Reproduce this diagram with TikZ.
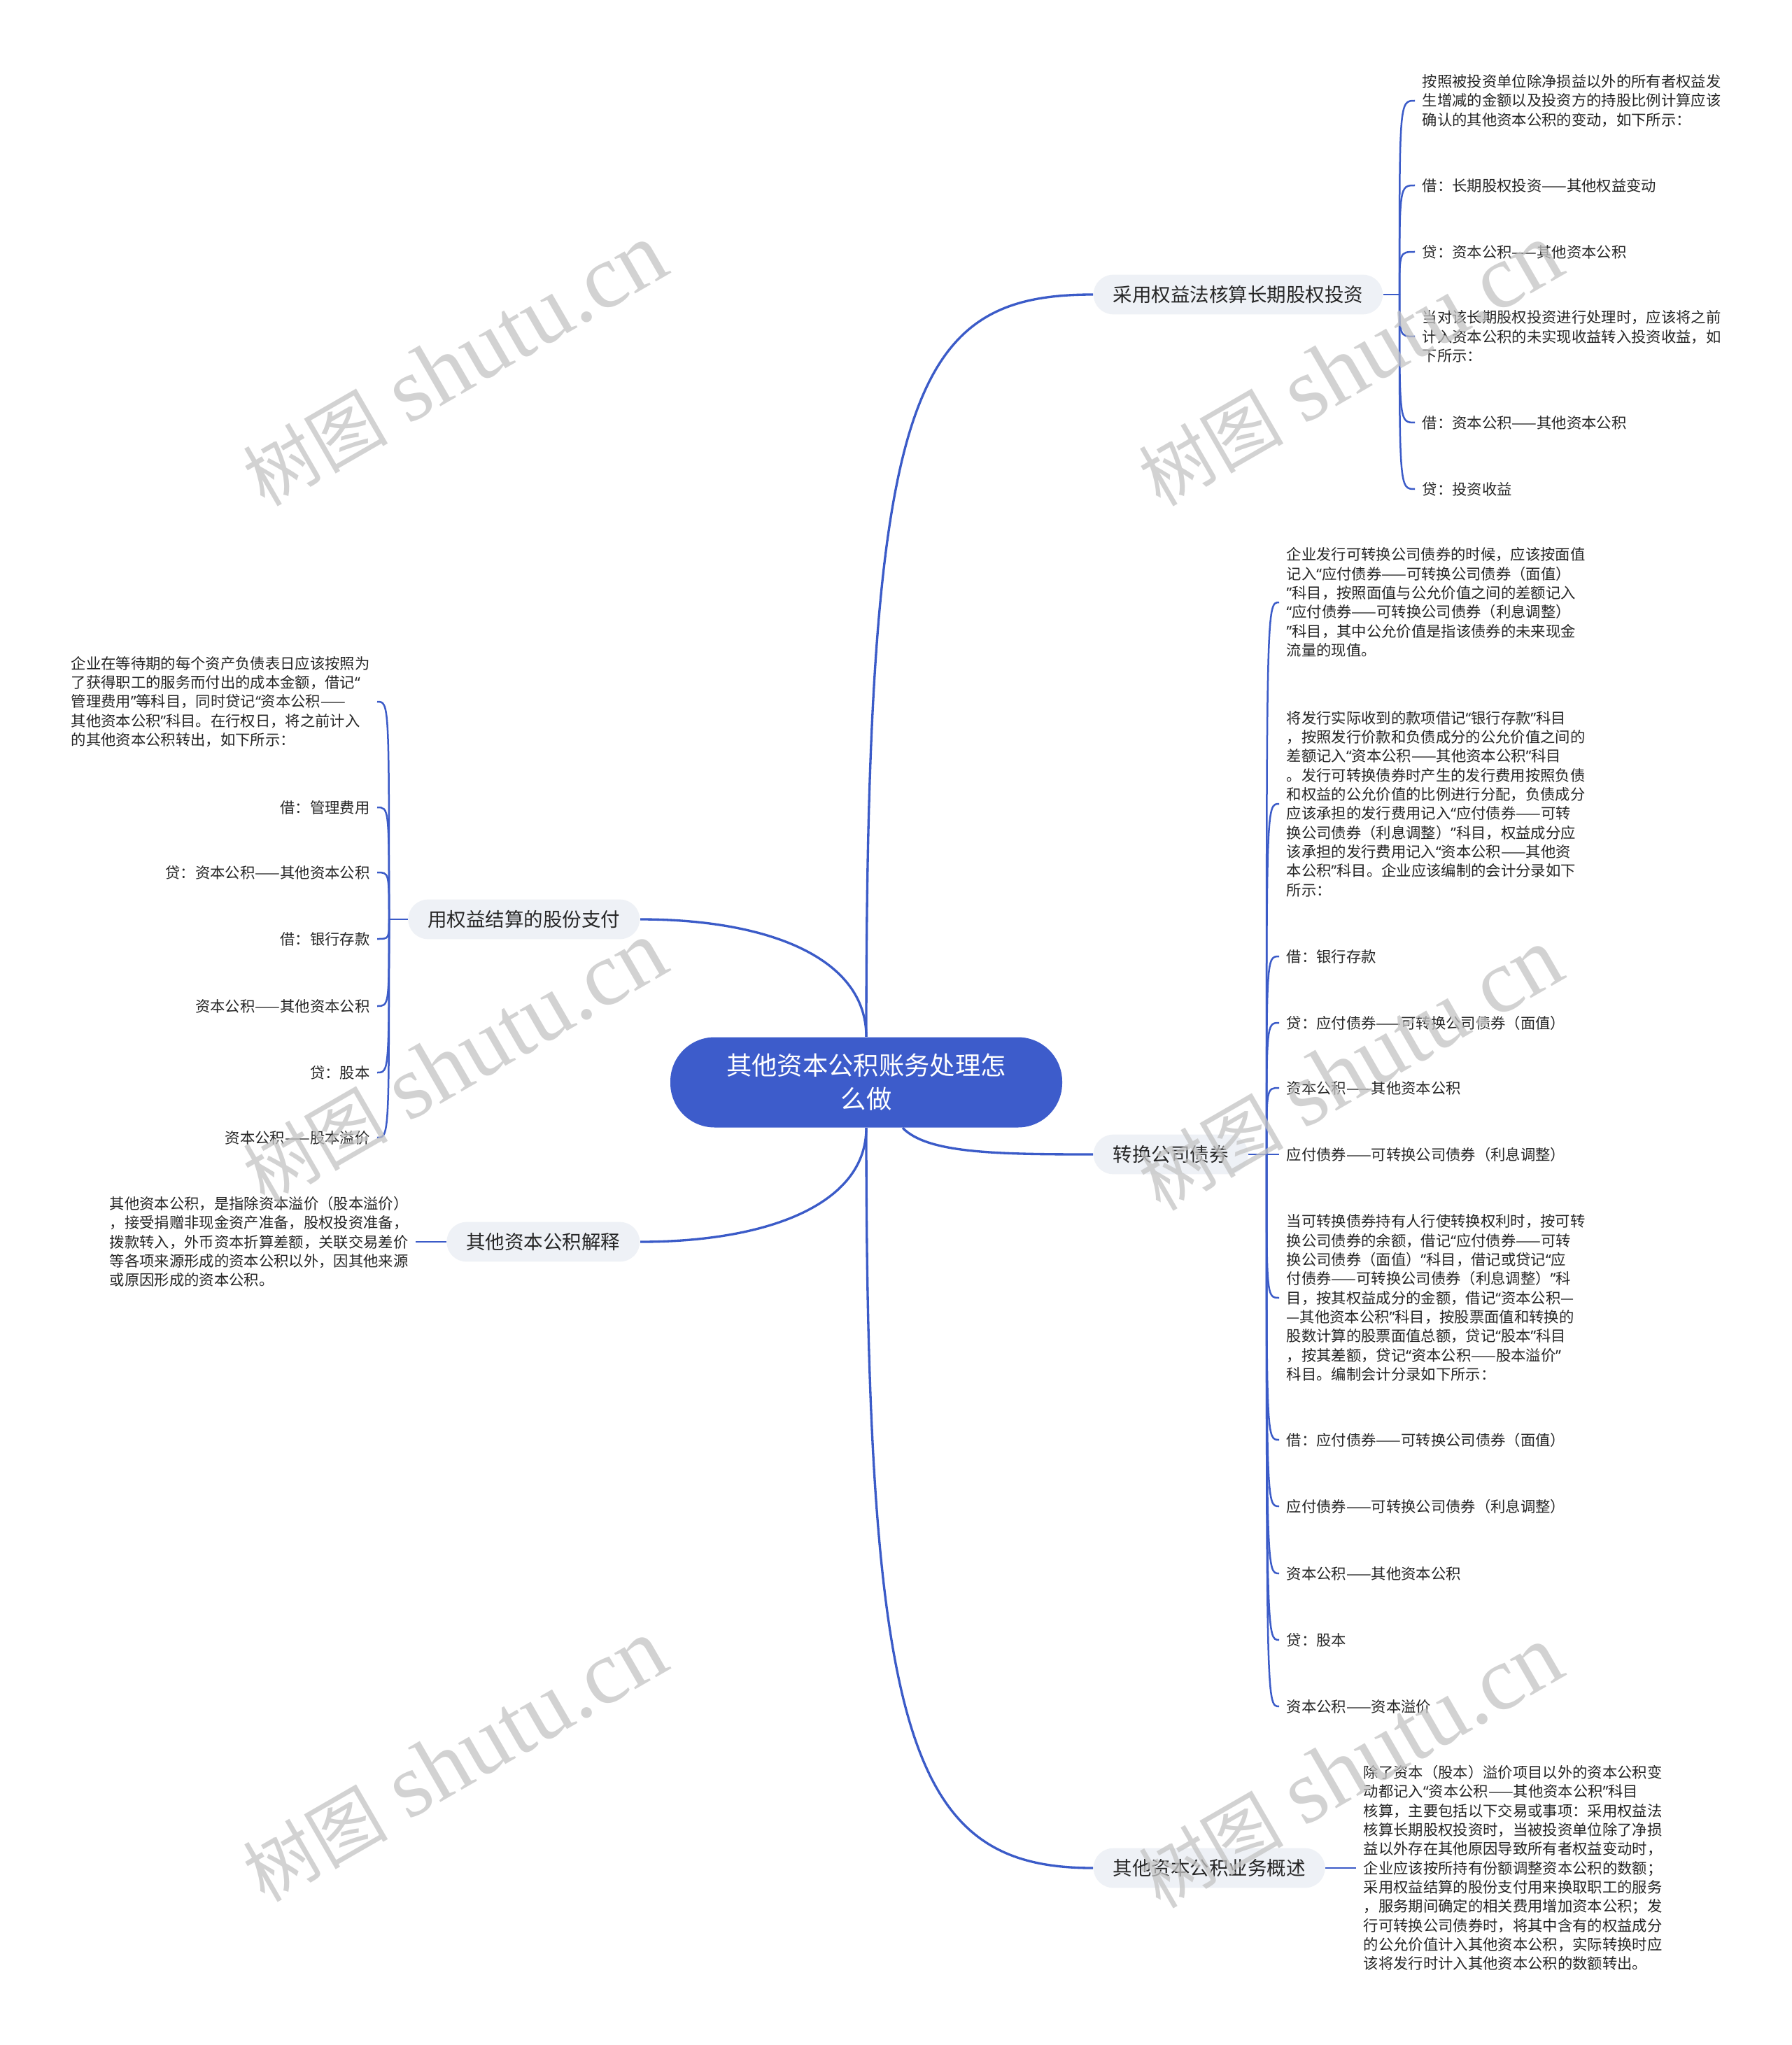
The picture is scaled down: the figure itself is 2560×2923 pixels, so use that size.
\documentclass[tikz,border=0pt]{standalone}
\usepackage{fontspec}
\setmainfont{Noto Sans CJK SC}
\newfontfamily\wmlatin{Liberation Serif}
\newfontfamily\qfont{Noto Sans}
\newcommand\qo{{\qfont “}}
\newcommand\qc{{\qfont ”}}
\usetikzlibrary{calc}
\definecolor{lineblue}{HTML}{3B5BC8}
\definecolor{centerblue}{HTML}{3D5CCB}
\definecolor{pillfill}{HTML}{EEF1F6}
\definecolor{txt}{HTML}{262626}
\definecolor{wm}{HTML}{C4C4C4}
\begin{document}
\begin{tikzpicture}[x=0.3pt,y=-0.3pt,
  centerbox/.style={fill=centerblue, text=white, rounded corners=19pt, minimum width=168pt, minimum height=38.7pt, align=center, font=\fontsize{10.9}{14.4}\selectfont, inner sep=0pt},
  pill/.style={fill=pillfill, text=txt, rounded corners=8.5pt, minimum height=17pt, inner xsep=8.4pt, inner ysep=0pt, font=\fontsize{8.25}{10}\selectfont},
  leafr/.style={anchor=west, align=left, text=txt, inner xsep=3pt, inner ysep=0pt, font=\fontsize{6.4}{8.2}\selectfont},
  leafl/.style={anchor=east, align=right, text=txt, inner xsep=3pt, inner ysep=0pt, font=\fontsize{6.4}{8.2}\selectfont},
  mainline/.style={draw=lineblue, line width=1pt},
  leafline/.style={draw=lineblue, line width=0.75pt},
  watermark/.style={rotate=30, text=wm, opacity=0.75, inner sep=0pt}
]
\fill[white] (0,0) rectangle (2560,2923);
\useasboundingbox (0,0) rectangle (2560,2923);

% center
\node[centerbox] (c) at (1238,1547) {其他资本公积账务处理怎\\么做};

% branches
\node[pill, anchor=west] (b1) at (1562,421) {采用权益法核算长期股权投资};
\node[pill, anchor=west] (b2) at (1562,1650) {转换公司债券};
\node[pill, anchor=west] (b3) at (1562,2670) {其他资本公积业务概述};
\node[pill, anchor=east] (b4) at (915,1314) {用权益结算的股份支付};
\node[pill, anchor=east] (b5) at (915,1775) {其他资本公积解释};

\draw[mainline] (c.north) .. controls (1238,560) and (1305,421) .. (b1.west);
\draw[mainline] ([xshift=15.6pt]c.south) .. controls (1325,1648) and (1420,1650) .. (b2.west);
\draw[mainline] (c.south) .. controls (1238,2498) and (1305,2670) .. (b3.west);
\draw[mainline] (c.north) .. controls (1238,1370) and (1100,1314) .. (b4.east);
\draw[mainline] (c.south) .. controls (1238,1720) and (1100,1775) .. (b5.east);

% ---------- branch 1 leaves
\coordinate (s1) at (2000,421);
\draw[leafline] (b1.east) -- (s1);
\node[leafr] (l1a) at (2022,144) {按照被投资单位除净损益以外的所有者权益发\\生增减的金额以及投资方的持股比例计算应该\\确认的其他资本公积的变动，如下所示：};
\node[leafr] (l1b) at (2022,265) {借：长期股权投资——其他权益变动};
\node[leafr] (l1c) at (2022,360) {贷：资本公积——其他资本公积};
\node[leafr] (l1d) at (2022,481) {当对该长期股权投资进行处理时，应该将之前\\计入资本公积的未实现收益转入投资收益，如\\下所示：};
\node[leafr] (l1e) at (2022,604) {借：资本公积——其他资本公积};
\node[leafr] (l1f) at (2022,699) {贷：投资收益};
\foreach \n in {l1a,l1b,l1c,l1d,l1e,l1f}
  \draw[leafline] (s1) .. controls (s1 |- \n.west) and (s1 |- \n.west) .. (\n.west);

% ---------- branch 2 leaves
\coordinate (s2) at (1810,1650);
\draw[leafline] (b2.east) -- (s2);
\node[leafr] (l2a) at (1828,861) {企业发行可转换公司债券的时候，应该按面值\\记入\qo{}应付债券——可转换公司债券（面值）\\\qc{}科目，按照面值与公允价值之间的差额记入\\\qo{}应付债券——可转换公司债券（利息调整）\\\qc{}科目，其中公允价值是指该债券的未来现金\\流量的现值。};
\node[leafr] (l2b) at (1828,1149) {将发行实际收到的款项借记\qo{}银行存款\qc{}科目\\，按照发行价款和负债成分的公允价值之间的\\差额记入\qo{}资本公积——其他资本公积\qc{}科目\\。发行可转换债券时产生的发行费用按照负债\\和权益的公允价值的比例进行分配，负债成分\\应该承担的发行费用记入\qo{}应付债券——可转\\换公司债券（利息调整）\qc{}科目，权益成分应\\该承担的发行费用记入\qo{}资本公积——其他资\\本公积\qc{}科目。企业应该编制的会计分录如下\\所示：};
\node[leafr] (l2c) at (1828,1367) {借：银行存款};
\node[leafr] (l2d) at (1828,1462) {贷：应付债券——可转换公司债券（面值）};
\node[leafr] (l2e) at (1828,1555) {资本公积——其他资本公积};
\node[leafr] (l2f) at (1828,1650) {应付债券——可转换公司债券（利息调整）};
\node[leafr] (l2g) at (1828,1855) {当可转换债券持有人行使转换权利时，按可转\\换公司债券的余额，借记\qo{}应付债券——可转\\换公司债券（面值）\qc{}科目，借记或贷记\qo{}应\\付债券——可转换公司债券（利息调整）\qc{}科\\目，按其权益成分的金额，借记\qo{}资本公积—\\—其他资本公积\qc{}科目，按股票面值和转换的\\股数计算的股票面值总额，贷记\qo{}股本\qc{}科目\\，按其差额，贷记\qo{}资本公积——股本溢价\qc{}\\科目。编制会计分录如下所示：};
\node[leafr] (l2h) at (1828,2058) {借：应付债券——可转换公司债券（面值）};
\node[leafr] (l2i) at (1828,2153) {应付债券——可转换公司债券（利息调整）};
\node[leafr] (l2j) at (1828,2249) {资本公积——其他资本公积};
\node[leafr] (l2k) at (1828,2344) {贷：股本};
\node[leafr] (l2l) at (1828,2439) {资本公积——资本溢价};
\foreach \n in {l2a,l2b,l2c,l2d,l2e,l2f,l2g,l2h,l2i,l2j,l2k,l2l}
  \draw[leafline] (s2) .. controls (s2 |- \n.west) and (s2 |- \n.west) .. (\n.west);

% ---------- branch 3 leaf
\node[leafr] (l3a) at (1938,2670) {除了资本（股本）溢价项目以外的资本公积变\\动都记入\qo{}资本公积——其他资本公积\qc{}科目\\核算，主要包括以下交易或事项：采用权益法\\核算长期股权投资时，当被投资单位除了净损\\益以外存在其他原因导致所有者权益变动时，\\企业应该按所持有份额调整资本公积的数额；\\采用权益结算的股份支付用来换取职工的服务\\，服务期间确定的相关费用增加资本公积；发\\行可转换公司债券时，将其中含有的权益成分\\的公允价值计入其他资本公积，实际转换时应\\该将发行时计入其他资本公积的数额转出。};
\draw[leafline] (b3.east) -- (l3a.west);

% ---------- branch 4 leaves
\coordinate (s4) at (556,1314);
\draw[leafline] (b4.west) -- (s4);
\node[leafl, align=left] (l4a) at (539,1003) {企业在等待期的每个资产负债表日应该按照为\\了获得职工的服务而付出的成本金额，借记\qo{}\\管理费用\qc{}等科目，同时贷记\qo{}资本公积——\\其他资本公积\qc{}科目。在行权日，将之前计入\\的其他资本公积转出，如下所示：};
\node[leafl] (l4b) at (539,1154) {借：管理费用};
\node[leafl] (l4c) at (539,1247) {贷：资本公积——其他资本公积};
\node[leafl] (l4d) at (539,1342) {借：银行存款};
\node[leafl] (l4e) at (539,1438) {资本公积——其他资本公积};
\node[leafl] (l4f) at (539,1533) {贷：股本};
\node[leafl] (l4g) at (539,1626) {资本公积——股本溢价};
\foreach \n in {l4a,l4b,l4c,l4d,l4e,l4f,l4g}
  \draw[leafline] (s4) .. controls (s4 |- \n.east) and (s4 |- \n.east) .. (\n.east);

% ---------- branch 5 leaf
\node[leafl, align=left] (l5a) at (594,1775) {其他资本公积，是指除资本溢价（股本溢价）\\，接受捐赠非现金资产准备，股权投资准备，\\拨款转入，外币资本折算差额，关联交易差价\\等各项来源形成的资本公积以外，因其他来源\\或原因形成的资本公积。};
\draw[leafline] (l5a.east) -- (b5.west);

% ---------- watermarks
\foreach \p in {(650,522),(1930,522),(650,1519),(1930,1529),(650,2517),(1930,2526)}
  \node[watermark] at \p {\fontsize{31}{31}\selectfont 树图\hspace{9pt}{\wmlatin\fontsize{39}{39}\selectfont shutu.cn}};
\end{tikzpicture}
\end{document}
